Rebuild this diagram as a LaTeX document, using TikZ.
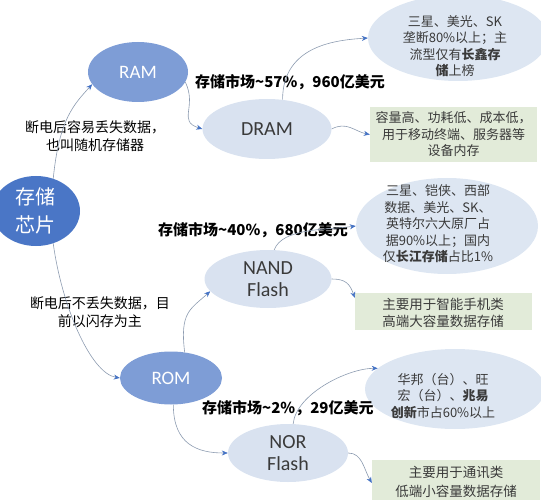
\documentclass[tikz,border=0pt]{standalone}
\usepackage{fontspec}
\newfontfamily\cjk{Noto Sans CJK SC}
\newfontfamily\lat{Carlito}
\usetikzlibrary{shapes.geometric,arrows.meta}
\definecolor{chipblue}{HTML}{4A76C6}
\definecolor{midblue}{HTML}{7E9DD6}
\definecolor{lightblue}{HTML}{D9E2F0}
\definecolor{infoblue}{HTML}{DDE6F2}
\definecolor{boxgreen}{HTML}{E2EBD9}
\definecolor{linegray}{HTML}{8C9BB0}
\definecolor{arrowblue}{HTML}{4472C4}
\definecolor{textgray}{HTML}{3A3A3A}
\begin{document}
\begin{tikzpicture}[x=1pt,y=-1pt,
  ell/.style={ellipse, draw=none, inner sep=0pt},
  gbox/.style={rectangle, draw=none, fill=boxgreen, inner sep=0pt},
  conn/.style={draw=linegray, line width=0.6pt, -{Stealth[length=6pt,width=5pt,color=arrowblue]}},
  info/.style={font=\cjk\fontsize{13}{16.5}\selectfont, align=center, text=textgray, inner sep=0pt},
  mlabel/.style={font=\cjk\bfseries\fontsize{15}{18}\selectfont, text=black, inner sep=0pt},
  side/.style={font=\cjk\fontsize{14}{18}\selectfont, align=center, text=black, inner sep=0pt},
  bigw/.style={font=\lat\fontsize{19}{22}\selectfont, text=white, align=center, inner sep=0pt},
  bigd/.style={font=\lat\fontsize{20}{22}\selectfont, text=textgray, align=center, inner sep=0pt}]
\useasboundingbox (0,0) rectangle (541,500);

% main ellipses
\node[ell, fill=chipblue, minimum width=88pt, minimum height=70pt] (chip) at (36,211) {};
\node[font=\cjk\fontsize{20}{28}\selectfont, text=white, align=center, inner sep=0pt] (chipt) at (chip.center) {存储\\芯片};
\node[ell, fill=midblue, minimum width=100pt, minimum height=60pt] (ram) at (138,72) {};
\node[bigw] (ramt) at (ram.center) {RAM};
\node[ell, fill=lightblue, minimum width=129pt, minimum height=60pt] (dram) at (267,129) {};
\node[bigd] (dramt) at (dram.center) {DRAM};
\node[ell, fill=midblue, minimum width=102pt, minimum height=53pt] (rom) at (171,378) {};
\node[bigw] (romt) at (rom.center) {ROM};
\node[ell, fill=lightblue, minimum width=127pt, minimum height=58pt] (nand) at (268,279) {};
\node[bigd] (nandt) at (nand.center) {NAND\\Flash};
\node[ell, fill=lightblue, minimum width=120pt, minimum height=58pt] (nor) at (288,453) {};
\node[bigd] (nort) at (nor.center) {NOR\\Flash};

% info ellipses
\node[ell, fill=infoblue, minimum width=180pt, minimum height=86pt] (ti) at (458,38) {};
\node[info] (tit) at (455,46) {三星、美光、SK\\垄断80\%以上；主\\流型仅有{\bfseries 长鑫存}\\{\bfseries 储}上榜};
\node[ell, fill=infoblue, minimum width=182pt, minimum height=96pt] (ni) at (447,226) {};
\node[info] (nit) at (438,224) {三星、铠侠、西部\\数据、美光、SK、\\英特尔六大原厂占\\据90\%以上；国内\\仅{\bfseries 长江存储}占比1\%};
\node[ell, fill=infoblue, minimum width=180pt, minimum height=80pt] (nri) at (455,389) {};
\node[info] (nrit) at (443,396) {华邦（台）、旺\\宏（台）、{\bfseries 兆易}\\{\bfseries 创新}市占60\%以上};

% green boxes
\node[gbox, minimum width=167pt, minimum height=55pt] (b1) at (453.5,134.5) {};
\node[info] (b1t) at (b1.center) {容量高、功耗低、成本低，\\用于移动终端、服务器等\\设备内存};
\node[gbox, minimum width=177pt, minimum height=37pt] (b2) at (443.5,311.5) {};
\node[info, font=\cjk\fontsize{13.5}{17}\selectfont] (b2t) at (443,313) {主要用于智能手机类\\高端大容量数据存储};
\node[gbox, minimum width=168pt, minimum height=46pt] (b3) at (456,483) {};
\node[info, font=\cjk\fontsize{13.5}{19}\selectfont] (b3t) at (456,482) {主要用于通讯类\\低端小容量数据存储};

% labels
\node[mlabel, anchor=west] (l1) at (195,82) {存储市场\textasciitilde57\%，960亿美元};
\node[mlabel, anchor=west] (l2) at (158,230) {存储市场\textasciitilde40\%，680亿美元};
\node[mlabel, anchor=west] (l3) at (202,408) {存储市场\textasciitilde2\%，29亿美元};
\node[side] (s1) at (95,136) {断电后容易丢失数据，\\也叫随机存储器};
\node[side] (s2) at (100,312) {断电后不丢失数据，目\\前以闪存为主};

% connectors
\draw[conn] (chip.62) .. controls +(6,-60) and +(-18,20) .. (ram.195);
\draw[conn] (chip.-62) .. controls +(8,60) and +(-30,-5) .. (rom.west);
\draw[conn] (ram.-12) .. controls +(12,25) and +(-25,-8) .. (dram.west);
\draw[conn] (dram.62) .. controls +(0,-55) and +(-30,2) .. (ti.west);
\draw[conn] (dram.east) .. controls +(15,-8) and +(-15,-3) .. (b1.west);
\draw[conn] (rom.62) .. controls +(-5,-40) and +(-20,18) .. (nand.192);
\draw[conn] (rom.-85) .. controls +(0,40) and +(-30,0) .. (nor.west);
\draw[conn] (nand.78) .. controls +(8,-22) and +(-30,4) .. (ni.west);
\draw[conn] (nand.east) .. controls +(14,0) and +(-5,-14) .. ([yshift=-5pt]b2.north west);
\draw[conn] (nor.80) .. controls +(3,-30) and +(-30,0) .. (nri.165);
\draw[conn] (nor.east) .. controls +(14,0) and +(-8,-14) .. (b3.west);
\end{tikzpicture}
\end{document}
